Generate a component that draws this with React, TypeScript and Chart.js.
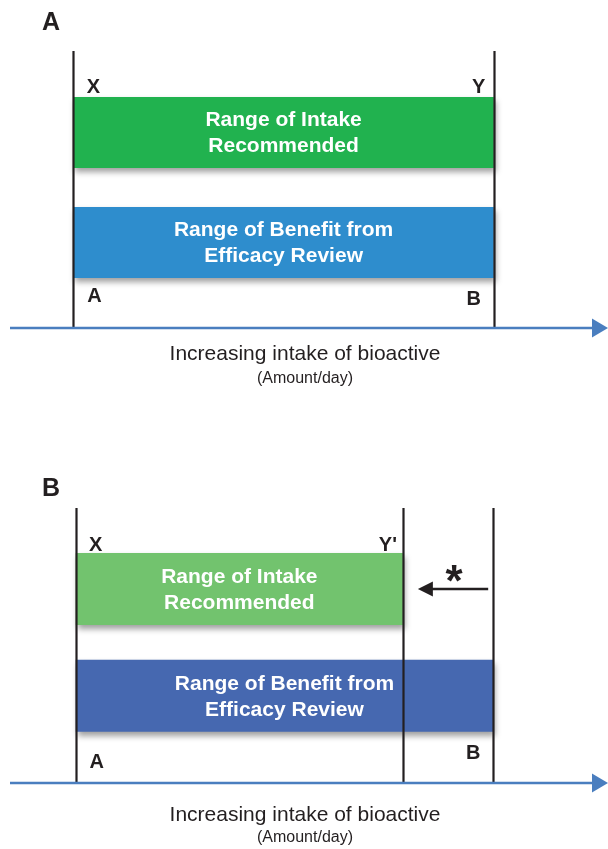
import React, { useEffect, useRef } from "react";
import { Chart, registerables } from "chart.js";

Chart.register(...registerables);

// ---- data ----
const categories = [
  ["Range of Intake", "Recommended"],
  ["Range of Benefit from", "Efficacy Review"],
];
// intake ranges (arbitrary intake units on 0..100 axis)
const panelARanges: [number, number][] = [
  [10.6, 80.9], // X..Y intake recommended
  [10.6, 80.9], // A..B benefit range
];
const panelBRanges: [number, number][] = [
  [11.0, 65.7], // X..Y' intake recommended
  [11.0, 80.8], // A..B benefit range
];
const panelAMarkers = [10.6, 80.9];
const panelBMarkers = [11.0, 65.7, 80.8];
const panelALetters = ["X", "Y", "A", "B"];
const panelBLetters = ["X", "Y'", "A", "B"];
const axisTitle = "Increasing intake of bioactive";
const axisUnit = "(Amount/day)";

const FONT = '"Liberation Sans", Arial, Helvetica, sans-serif';
const INK = "#231f20";
const AXIS_BLUE = "#4a7ebf";

type PanelProps = {
  letter: string;
  ranges: [number, number][];
  markers: number[];
  letters: string[];
  colors: string[];
  height: number;
  padTop: number;
  padBottom: number;
  barPct: number;
  lineTop: number;
  axisY: number;
  textY: number;
  unitY: number;
  letterY: number;
  xyY: number;
  abY: [number, number];
  shiftArrow: boolean;
};

function Panel(p: PanelProps) {
  const ref = useRef<HTMLCanvasElement | null>(null);
  useEffect(() => {
    if (!ref.current) return;
    const decor = {
      id: "decor",
      beforeDatasetsDraw(chart: any) {
        const ctx = chart.ctx;
        ctx.save();
        ctx.shadowColor = "rgba(0,0,0,0.38)";
        ctx.shadowBlur = 6;
        ctx.shadowOffsetX = 2;
        ctx.shadowOffsetY = 4;
      },
      afterDatasetsDraw(chart: any) {
        const ctx = chart.ctx;
        ctx.restore();
        const meta = chart.getDatasetMeta(0);
        ctx.save();
        ctx.fillStyle = "#ffffff";
        ctx.font = `bold 21px ${FONT}`;
        ctx.textAlign = "center";
        ctx.textBaseline = "middle";
        meta.data.forEach((el: any, i: number) => {
          const cx = (el.x + el.base) / 2;
          const lines = categories[i];
          lines.forEach((t, j) => {
            ctx.fillText(t, cx, el.y + 1 + (j - (lines.length - 1) / 2) * 26);
          });
        });
        ctx.restore();
      },
      afterDraw(chart: any) {
        const ctx = chart.ctx;
        const xs = chart.scales.x;
        const W = chart.width;
        ctx.save();
        // vertical marker lines
        ctx.strokeStyle = INK;
        ctx.lineWidth = 2.2;
        p.markers.forEach((v) => {
          const x = Math.round(xs.getPixelForValue(v)) + 0.5;
          ctx.beginPath();
          ctx.moveTo(x, p.lineTop);
          ctx.lineTo(x, p.axisY);
          ctx.stroke();
        });
        // axis arrow
        ctx.strokeStyle = AXIS_BLUE;
        ctx.fillStyle = AXIS_BLUE;
        ctx.lineWidth = 2.6;
        ctx.beginPath();
        ctx.moveTo(xs.left, p.axisY);
        ctx.lineTo(W - 14, p.axisY);
        ctx.stroke();
        ctx.beginPath();
        ctx.moveTo(W - 16, p.axisY - 9.5);
        ctx.lineTo(W, p.axisY);
        ctx.lineTo(W - 16, p.axisY + 9.5);
        ctx.closePath();
        ctx.fill();
        // axis titles
        ctx.fillStyle = INK;
        ctx.textAlign = "center";
        ctx.textBaseline = "middle";
        ctx.font = `21px ${FONT}`;
        ctx.fillText(axisTitle, 305, p.textY);
        ctx.font = `16px ${FONT}`;
        ctx.fillText(axisUnit, 305, p.unitY);
        // panel letter
        ctx.font = `bold 25px ${FONT}`;
        ctx.fillText(p.letter, 51, p.letterY);
        // range end letters
        const r0 = p.ranges[0];
        const r1 = p.ranges[1];
        ctx.font = `bold 20px ${FONT}`;
        ctx.fillText(p.letters[0], xs.getPixelForValue(r0[0]) + 20, p.xyY);
        ctx.fillText(p.letters[1], xs.getPixelForValue(r0[1]) - 15, p.xyY);
        ctx.fillText(p.letters[2], xs.getPixelForValue(r1[0]) + 21, p.abY[0]);
        ctx.fillText(p.letters[3], xs.getPixelForValue(r1[1]) - 20, p.abY[1]);
        // shift arrow (panel B)
        if (p.shiftArrow) {
          const meta = chart.getDatasetMeta(0);
          const y = meta.data[0].y;
          const tip = xs.getPixelForValue(r0[1]) + 15;
          const tail = xs.getPixelForValue(r1[1]) - 5;
          ctx.strokeStyle = INK;
          ctx.fillStyle = INK;
          ctx.lineWidth = 2.6;
          ctx.beginPath();
          ctx.moveTo(tail, y);
          ctx.lineTo(tip + 12, y);
          ctx.stroke();
          ctx.beginPath();
          ctx.moveTo(tip, y);
          ctx.lineTo(tip + 15, y - 7.5);
          ctx.lineTo(tip + 15, y + 7.5);
          ctx.closePath();
          ctx.fill();
          ctx.font = `bold 44px ${FONT}`;
          ctx.textBaseline = "alphabetic";
          ctx.fillText("*", (tip + tail) / 2 + 1, y + 7);
        }
        ctx.restore();
      },
    };
    const chart = new Chart(ref.current, {
      type: "bar",
      data: {
        labels: categories.map((c) => c.join(" ")),
        datasets: [
          {
            data: p.ranges as any,
            backgroundColor: p.colors,
            borderWidth: 0,
            barPercentage: p.barPct,
            categoryPercentage: 1,
          },
        ],
      },
      options: {
        indexAxis: "y",
        responsive: false,
        animation: false,
        events: [],
        layout: { padding: { left: 10, right: 0, top: p.padTop, bottom: p.padBottom } },
        scales: {
          x: { type: "linear", min: 0, max: 100, display: false },
          y: { display: false },
        },
        plugins: { legend: { display: false }, tooltip: { enabled: false } },
      },
      plugins: [decor],
    } as any);
    return () => chart.destroy();
  }, []);
  return <canvas ref={ref} width={608} height={p.height} style={{ display: "block", width: 608, height: p.height }} />;
}

export default function App() {
  return (
    <div style={{ position: "absolute", left: 0, top: 0, width: 608, height: 849, background: "#fff" }}>
      <Panel
        letter="A"
        ranges={panelARanges}
        markers={panelAMarkers}
        letters={panelALetters}
        colors={["#21b24f", "#2e8dcd"]}
        height={424}
        padTop={77.5}
        padBottom={126.5}
        barPct={0.645}
        lineTop={51}
        axisY={328}
        textY={354}
        unitY={379}
        letterY={23}
        xyY={87}
        abY={[296, 299]}
        shiftArrow={false}
      />
      <Panel
        letter="B"
        ranges={panelBRanges}
        markers={panelBMarkers}
        letters={panelBLetters}
        colors={["#72c36e", "#4668b0"]}
        height={425}
        padTop={111.6}
        padBottom={99.9}
        barPct={0.674}
        lineTop={84}
        axisY={359}
        textY={391}
        unitY={414}
        letterY={65}
        xyY={121}
        abY={[338, 329]}
        shiftArrow={true}
      />
    </div>
  );
}
